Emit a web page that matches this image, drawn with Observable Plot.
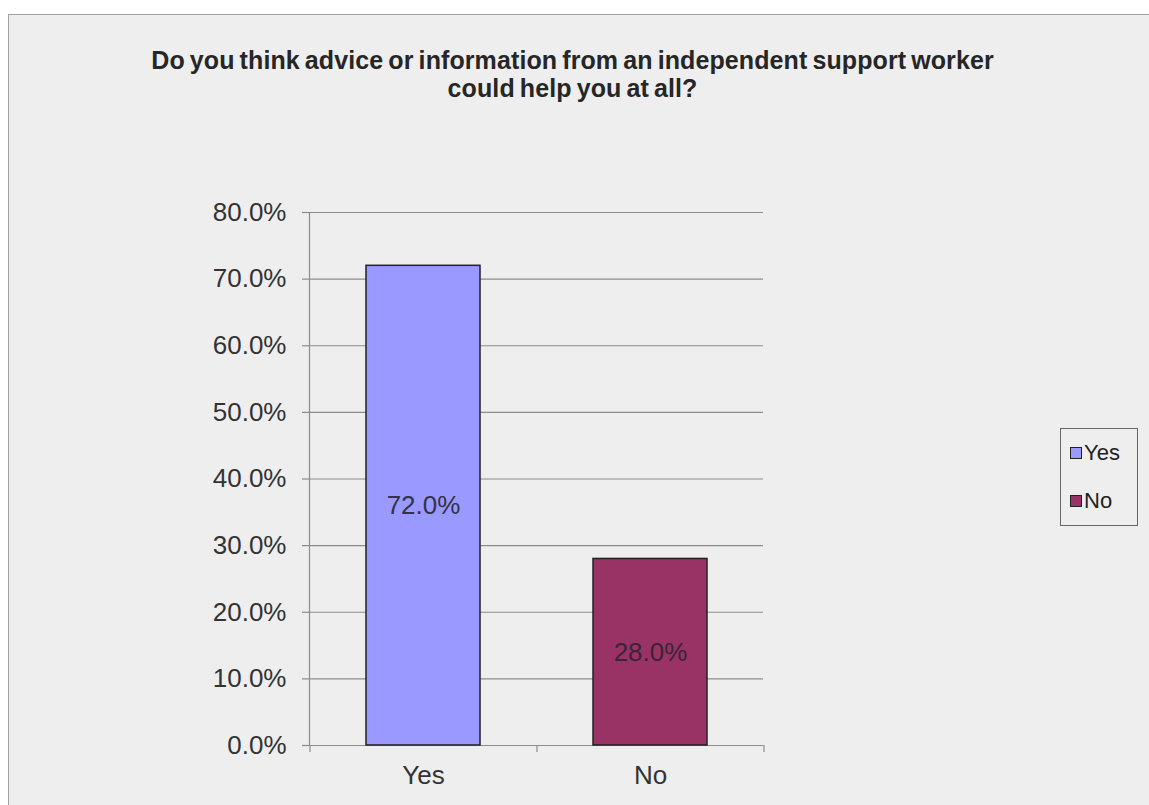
<!DOCTYPE html>
<html>
<head>
<meta charset="utf-8">
<script src="https://cdn.jsdelivr.net/npm/d3@7"></script>
<script src="https://cdn.jsdelivr.net/npm/@observablehq/plot@0.6"></script>
<style>
  html, body { margin: 0; padding: 0; background: #ffffff; }
  #wrap { position: relative; width: 1149px; height: 805px; overflow: hidden; font-family: "Liberation Sans", Arial, sans-serif; }
  #panel { position: absolute; left: 8px; top: 14px; width: 1160px; height: 820px; background: #eeeeee; border-top: 1px solid #a0a0a0; border-left: 1px solid #a0a0a0; box-sizing: border-box; }
  #title { position: absolute; left: 0; top: 46px; width: 1145px; text-align: center; font-weight: bold; font-size: 25px; line-height: 28px; color: #262626; word-spacing: -2px; letter-spacing: 0.1px; }
  #chart { position: absolute; left: 0; top: 0; }
  #legend { position: absolute; left: 1060px; top: 428px; width: 78px; height: 98px; border: 1px solid #666; box-sizing: border-box; font-size: 22px; color: #222; }
  .item { position: absolute; left: 9px; display: flex; align-items: center; line-height: 24px; }
  .sw { width: 10px; height: 10px; border: 1px solid #222; margin-right: 2px; }
</style>
</head>
<body>
<div id="wrap">
  <div id="panel"></div>
  <div id="title">Do you think advice or information from an independent support worker<br>could help you at all?</div>
  <div id="chart"></div>
  <div id="legend"></div>
</div>
<script>
const categories = ["Yes", "No"];
const values = [72.0, 28.0];
const colors = ["#9999ff", "#993366"];
const labelColors = ["#333344", "#3a2436"];
const yTicks = [0, 10, 20, 30, 40, 50, 60, 70, 80];

const data = categories.map((c, i) => ({category: c, value: values[i], color: colors[i], labelColor: labelColors[i]}));

const W = 1149, H = 805;
const mL = 309, mR = 386, mT = 212, mB = 60;
const step = (W - mL - mR) / categories.length;
const tickLen = 80 / (H - mT - mB) * 7;
const axisColor = "#8c8c8c";

const chart = Plot.plot({
  width: W,
  height: H,
  marginLeft: mL,
  marginRight: mR,
  marginTop: mT,
  marginBottom: mB,
  style: {background: "transparent", fontFamily: "Liberation Sans, Arial, sans-serif"},
  x: {domain: categories, paddingInner: 0.5, paddingOuter: 0.25, label: null},
  y: {domain: [0, 80], label: null},
  marks: [
    Plot.gridY(yTicks, {stroke: axisColor, strokeOpacity: 1, strokeWidth: 1.2}),
    Plot.axisY(yTicks, {tickSize: 7, tickPadding: 16, tickFormat: d => d.toFixed(1) + "%", fontSize: 26, fill: "#333", stroke: axisColor, strokeWidth: 1.2, label: null}),
    Plot.axisX({tickSize: 0, tickPadding: 20, fontSize: 26, fill: "#333", label: null}),
    Plot.frame({anchor: "left", stroke: axisColor, strokeWidth: 1.2}),
    Plot.ruleY([0], {stroke: axisColor, strokeWidth: 1.2}),
    Plot.ruleX(categories, {x: d => d, dx: -step / 2, y1: 0, y2: -tickLen, stroke: axisColor, strokeWidth: 1.2}),
    Plot.ruleX(categories.slice(-1), {x: d => d, dx: step / 2, y1: 0, y2: -tickLen, stroke: axisColor, strokeWidth: 1.2}),
    Plot.barY(data, {x: "category", y: "value", fill: "color", stroke: "#222", strokeWidth: 1.5}),
    Plot.text(data, {x: "category", y: d => d.value / 2, text: d => d.value.toFixed(1) + "%", fill: "labelColor", fontSize: 26})
  ]
});
document.getElementById("chart").appendChild(chart);

const legend = document.getElementById("legend");
categories.forEach((c, i) => {
  const item = document.createElement("div");
  item.className = "item";
  item.style.top = (i === 0 ? 12 : 60) + "px";
  const sw = document.createElement("div");
  sw.className = "sw";
  sw.style.background = colors[i];
  const t = document.createElement("span");
  t.textContent = c;
  item.appendChild(sw);
  item.appendChild(t);
  legend.appendChild(item);
});
</script>
</body>
</html>
